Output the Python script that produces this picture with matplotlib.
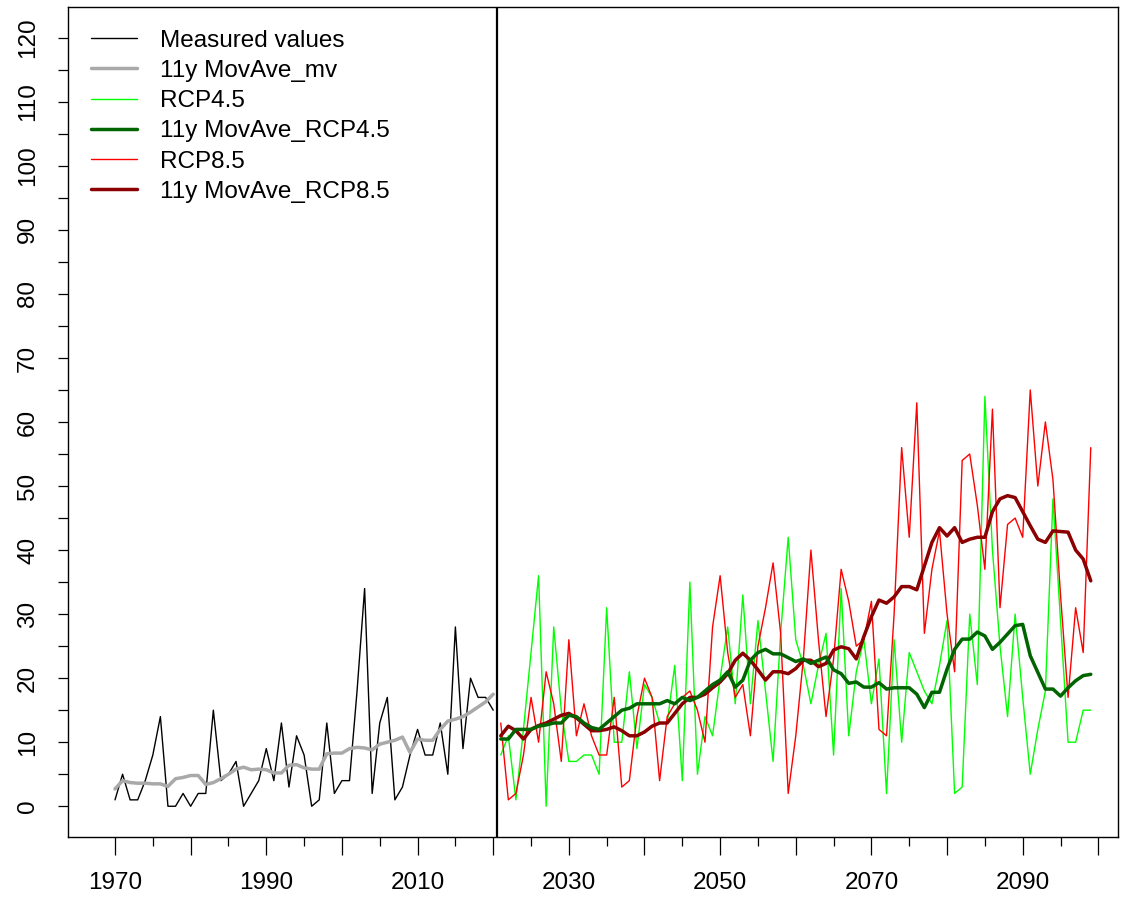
import numpy as np
import matplotlib
matplotlib.use("Agg")
import matplotlib.pyplot as plt

plt.rcParams['font.family'] = ['Liberation Sans', 'DejaVu Sans']

# observed period
years_mv = np.arange(1970, 2021)
measured = [1, 5, 1, 1, 4, 8, 14, 0, 0, 2,
            0, 2, 2, 15, 4, 5, 7, 0, 2, 4,
            9, 4, 13, 3, 11, 8, 0, 1, 13, 2,
            4, 4, 18, 34, 2, 13, 17, 1, 3, 8,
            12, 8, 8, 13, 5, 28, 9, 20, 17, 17,
            15]
movave_mv = [2.7, 4.0, 3.7, 3.6, 3.6, 3.5, 3.5, 3.1, 4.3, 4.5,
             4.8, 4.8, 3.4, 3.7, 4.3, 5.0, 5.8, 6.1, 5.7, 5.8,
             5.7, 5.2, 5.2, 6.4, 6.5, 6.0, 5.8, 5.8, 8.2, 8.3,
             8.3, 9.0, 9.2, 9.1, 8.8, 9.7, 10.0, 10.3, 10.8, 8.4,
             10.5, 10.3, 10.3, 12.0, 13.3, 13.6, 14.0, 14.7, 15.5, 16.3,
             17.5]

# scenario period
years_rcp = np.arange(2021, 2100)
rcp45 = [8, 11, 1, 12, 24, 36, 0, 28, 15, 7,
         7, 8, 8, 5, 31, 10, 10, 21, 9, 19,
         17, 13, 13, 22, 4, 35, 5, 14, 11, 20,
         28, 16, 33, 16, 29, 18, 7, 27, 42, 26,
         22, 16, 22, 27, 8, 34, 11, 21, 26, 16,
         23, 2, 26, 10, 24, 21, 18, 16, 22, 29,
         2, 3, 30, 19, 64, 40, 25, 14, 30, 17,
         5, 12, 18, 48, 29, 10, 10, 15, 15]
movave_45 = [10.5, 10.5, 12.0, 12.0, 12.0, 12.5, 12.7, 13.0, 13.0, 14.2,
             14.0, 13.0, 12.3, 12.0, 13.0, 14.0, 15.0, 15.3, 16.0, 16.0,
             16.0, 16.0, 16.5, 16.0, 17.0, 16.5, 17.0, 18.0, 19.0, 19.7,
             21.0, 18.6, 19.7, 22.8, 24.0, 24.5, 23.8, 23.8, 23.2, 22.6,
             23.0, 22.3, 22.8, 23.3, 21.3, 20.7, 19.2, 19.4, 18.6, 18.6,
             19.3, 18.3, 18.5, 18.5, 18.5, 17.5, 15.4, 17.8, 17.8, 21.4,
             24.5, 26.1, 26.1, 27.2, 26.6, 24.5, 25.6, 26.9, 28.2, 28.4,
             23.5, 20.9, 18.3, 18.3, 17.2, 18.5, 19.6, 20.4, 20.6]
rcp85 = [13, 1, 2, 8, 17, 10, 21, 16, 7, 26,
         11, 16, 11, 8, 8, 17, 3, 4, 14, 20,
         17, 4, 14, 16, 17, 18, 15, 10, 28, 36,
         24, 17, 19, 11, 25, 31, 38, 27, 2, 11,
         23, 40, 26, 14, 23, 37, 32, 25, 26, 32,
         12, 11, 30, 56, 42, 63, 27, 37, 43, 30,
         21, 54, 55, 47, 37, 62, 31, 44, 45, 42,
         65, 50, 60, 51, 33, 17, 31, 24, 56]
movave_85 = [11.0, 12.5, 11.8, 10.5, 12.0, 12.6, 13.0, 13.6, 14.2, 14.5,
             13.8, 12.8, 11.8, 11.8, 12.0, 12.4, 11.8, 11.0, 11.0, 11.6,
             12.5, 13.0, 13.0, 14.5, 16.0, 17.0, 17.0, 17.5, 18.5, 19.4,
             20.7, 22.8, 23.9, 22.8, 21.3, 19.7, 21.0, 21.0, 20.7, 21.5,
             22.8, 22.8, 21.8, 22.3, 24.4, 24.9, 24.6, 23.0, 26.5, 29.6,
             32.2, 31.7, 32.7, 34.3, 34.3, 33.8, 37.5, 41.2, 43.5, 42.2,
             43.5, 41.2, 41.7, 42.0, 42.0, 46.0, 48.0, 48.5, 48.2, 46.0,
             43.8, 41.7, 41.2, 43.0, 42.9, 42.8, 40.0, 38.6, 35.2]

series_names = ["Measured values", "11y MovAve_mv", "RCP4.5",
                "11y MovAve_RCP4.5", "RCP8.5", "11y MovAve_RCP8.5"]
x_ticks = list(range(1970, 2101, 10))
x_tick_labels = ["1970", "", "1990", "", "2010", "", "2030", "",
                 "2050", "", "2070", "", "2090", ""]
y_ticks = list(range(0, 121, 10))
split_year = 2020.5

fs = 17.5
fig = plt.figure(figsize=(11.32, 8.99), dpi=100)
ax = fig.add_axes([67.5 / 1132, (899 - 837) / 899, 1050.5 / 1132, 830 / 899])

thin = 1.0
thick = 2.5
rnd = dict(solid_capstyle='round', solid_joinstyle='round')
h_mv, = ax.plot(years_mv, measured, color='black', lw=thin, **rnd)
h_mva, = ax.plot(years_mv, movave_mv, color='#A9A9A9', lw=thick, **rnd)
h_45, = ax.plot(years_rcp, rcp45, color='#00FF00', lw=thin, **rnd)
h_85, = ax.plot(years_rcp, rcp85, color='#FF0000', lw=thin, **rnd)
h_85a, = ax.plot(years_rcp, movave_85, color='#8B0000', lw=thick, **rnd)
h_45a, = ax.plot(years_rcp, movave_45, color='#006400', lw=thick, **rnd)
ax.axvline(split_year, color='black', lw=1.6)

ax.set_xlim(1963.72, 2102.6)
ax.set_ylim(-4.8, 124.8)

ax.set_xticks(x_ticks)
ax.set_xticklabels(x_tick_labels)
ax.set_xticks(np.arange(1975, 2100, 10), minor=True)
ax.set_yticks(y_ticks)
ax.set_yticks(np.arange(5, 120, 10), minor=True)
ax.tick_params(axis='x', which='major', length=13, width=0.9, pad=12, labelsize=fs)
ax.tick_params(axis='x', which='minor', length=6.5, width=0.9)
ax.tick_params(axis='y', which='both', length=7.5, width=0.9, pad=13, labelsize=fs)
for lbl in ax.get_yticklabels():
    lbl.set_rotation(90)
    lbl.set_va('center')
for sp in ax.spines.values():
    sp.set_linewidth(1.0)

ax.legend([h_mv, h_mva, h_45, h_45a, h_85, h_85a], series_names,
          loc='upper left', bbox_to_anchor=(23.2 / 1050.5, 1 - 22.5 / 830),
          frameon=False, fontsize=fs, handlelength=1.9, handletextpad=0.95,
          labelspacing=0.34, borderpad=0, borderaxespad=0)

fig.savefig("out.png", dpi=100)
